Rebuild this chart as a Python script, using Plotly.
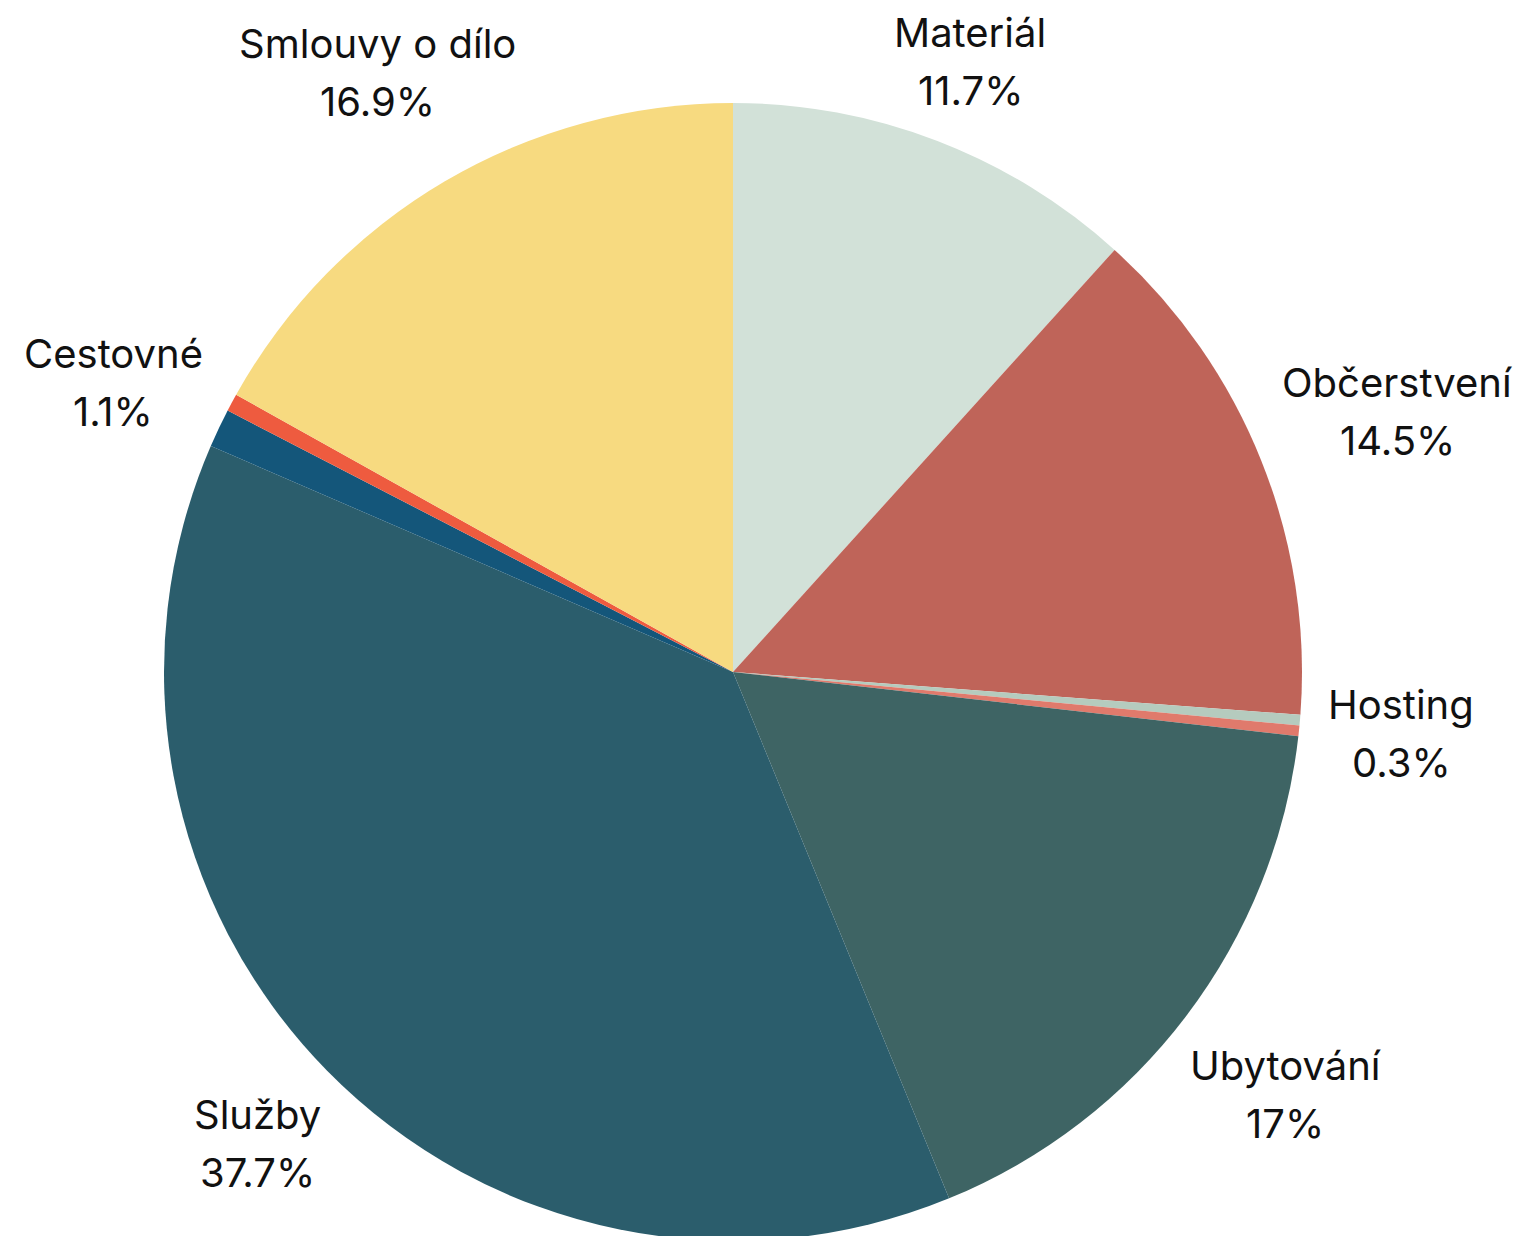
import math
import plotly.graph_objects as go

# ---- data ----
categories = ["Materiál", "Občerstvení", "Hosting", "Ostatní", "Ubytování",
              "Služby", "Cestovné", "Poplatky", "Smlouvy o dílo"]
shares = [11.7, 14.5, 0.3, 0.3, 17.0, 37.7, 1.1, 0.5, 16.9]
pct_labels = ["11.7%", "14.5%", "0.3%", "", "17%", "37.7%", "1.1%", "", "16.9%"]
show_label = [True, True, True, False, True, True, True, False, True]
colors = ["#D2E1D8", "#BF6459", "#B5CBBE", "#E07A6C", "#3E6464",
          "#2B5D6C", "#14567A", "#EE5B3F", "#F7DA80"]

# ---- layout geometry ----
W, H = 1526, 1236
OFF = 8            # page offset of the figure inside the browser window
R = 569
CX, CY = 733, 672  # desired centre in window pixels
FX, FY = CX - OFF, CY - OFF  # centre in figure pixels

FONT = "Inter, Poppins, sans-serif"
FS = 40
CHAR_W = 21
HALF_H = 38
GAP = 25
LINE_OFF = 29
Y_SHIFT = 5

fig = go.Figure(go.Pie(
    labels=categories,
    values=shares,
    sort=False,
    direction="clockwise",
    rotation=0,
    marker=dict(colors=colors, line=dict(width=0)),
    textinfo="none",
    hoverinfo="label+percent",
    showlegend=False,
    domain=dict(x=[(FX - R) / W, (FX + R) / W],
                y=[1 - (FY + R) / H, 1 - (FY - R) / H]),
))

total = sum(shares)
cum = 0.0
annotations = []
for name, val, pl, show in zip(categories, shares, pct_labels, show_label):
    mid = (cum + val / 2) / total * 2 * math.pi
    cum += val
    if not show:
        continue
    ux, uy = math.sin(mid), -math.cos(mid)  # screen coords (down positive)
    half_w = CHAR_W * max(len(name), len(pl)) / 2
    support = abs(ux) * half_w + abs(uy) * HALF_H
    d = R + GAP + support
    px = FX + ux * d
    py = FY + uy * d + Y_SHIFT
    for txt, off in ((name, -LINE_OFF), (pl, LINE_OFF)):
        annotations.append(dict(
            x=px / W, y=1 - (py + off) / H, xref="paper", yref="paper",
            text=txt, showarrow=False, xanchor="center", yanchor="middle",
            font=dict(family=FONT, size=FS, color="#111111"),
        ))

fig.update_layout(
    width=W, height=H,
    margin=dict(l=0, r=0, t=0, b=0),
    paper_bgcolor="white", plot_bgcolor="white",
    annotations=annotations,
)

fig.write_html("out.html")
